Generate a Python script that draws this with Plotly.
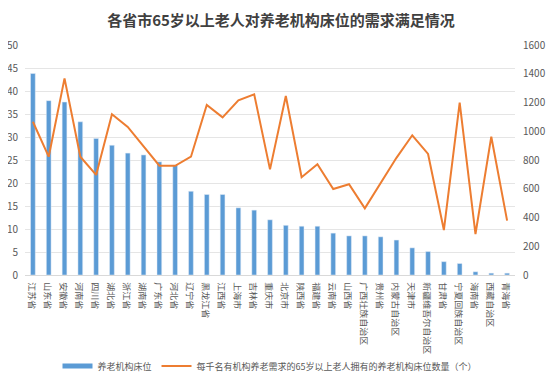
import plotly.graph_objects as go

provinces = ["江苏省", "山东省", "安徽省", "河南省", "四川省", "湖北省", "浙江省", "湖南省", "广东省", "河北省",
             "辽宁省", "黑龙江省", "江西省", "上海市", "吉林省", "重庆市", "北京市", "陕西省", "福建省", "云南省",
             "山西省", "广西壮族自治区", "贵州省", "内蒙古自治区", "天津市", "新疆维吾尔自治区", "甘肃省",
             "宁夏回族自治区", "海南省", "西藏自治区", "青海省"]

beds = [43.8, 37.9, 37.6, 33.3, 29.7, 28.2, 26.5, 26.1, 24.6, 23.9,
        18.2, 17.5, 17.5, 14.6, 14.1, 12.0, 10.8, 10.6, 10.6, 9.1,
        8.5, 8.5, 8.3, 7.6, 5.9, 5.1, 2.9, 2.5, 0.7, 0.4, 0.4]

beds_per_thousand = [1066, 823, 1368, 823, 696, 1118, 1030, 893, 760, 760,
                     823, 1183, 1097, 1215, 1257, 735, 1245, 680, 770, 598,
                     631, 464, 640, 815, 972, 842, 313, 1199, 285, 962, 378]

left_ticks = list(range(0, 51, 5))
right_ticks = list(range(0, 1601, 200))

bar_name = "养老机构床位"
line_name = "每千名有机构养老需求的65岁以上老人拥有的养老机构床位数量（个）"

font_family = "Noto Sans CJK SC, Noto Sans, sans-serif"
BLUE = "#5B9BD5"
ORANGE = "#ED7D31"

fig = go.Figure()
fig.add_trace(go.Bar(
    x=provinces, y=beds, name=bar_name,
    marker=dict(color=BLUE), yaxis="y", showlegend=False
))
# legend-only entry drawn as a wide flat rectangle like the reference
fig.add_trace(go.Scatter(
    x=[None], y=[None], mode="lines", name=bar_name,
    line=dict(color=BLUE, width=5), yaxis="y"
))
fig.add_trace(go.Scatter(
    x=provinces, y=beds_per_thousand, mode="lines", name=line_name,
    line=dict(color=ORANGE, width=2), yaxis="y2"
))

# The page adds an 8px body margin, so the figure is shrunk by 8px and shifted accordingly
fig.update_layout(
    width=546, height=372,
    margin=dict(l=17, r=39, t=37, b=105, autoexpand=False),
    paper_bgcolor="white", plot_bgcolor="white",
    font=dict(family=font_family, size=10, color="#595959"),
    title=dict(text="<b>各省市65岁以上老人对养老机构床位的需求满足情况</b>",
               x=0.5, xanchor="center", y=0.966, yanchor="middle",
               font=dict(size=15, color="#404040", family=font_family)),
    bargap=0.7,
    showlegend=True,
    legend=dict(orientation="h", x=0.5, xanchor="center", y=-0.396, yanchor="middle",
                font=dict(size=9, color="#595959"), itemwidth=30,
                bgcolor="rgba(0,0,0,0)"),
    xaxis=dict(tickangle=89.9, tickfont=dict(size=9, color="#595959"), automargin=False,
               showline=True, linecolor="#D9D9D9", ticks="", showgrid=False),
    yaxis=dict(range=[0, 50], tickvals=left_ticks, showgrid=True, gridcolor="#E5E5E5",
               zeroline=False, tickfont=dict(size=10, color="#595959"), ticks="",
               automargin=False, ticklabelstandoff=6),
    yaxis2=dict(range=[0, 1600], tickvals=right_ticks, overlaying="y", side="right",
                showgrid=False, zeroline=False, tickfont=dict(size=10, color="#595959"),
                ticks="", automargin=False, ticklabelstandoff=7),
)

fig.write_html("out.html")
